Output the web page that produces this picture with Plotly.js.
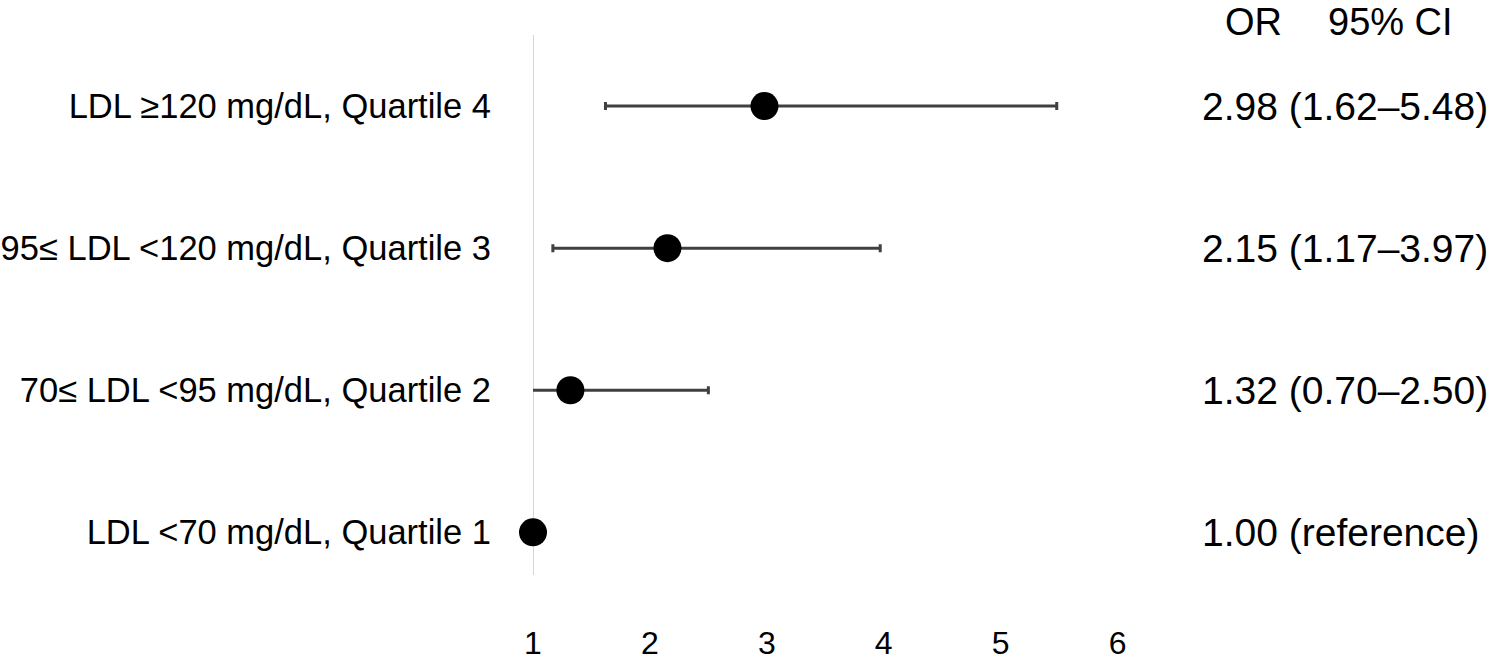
<!DOCTYPE html>
<html>
<head>
<meta charset="utf-8">
<script src="https://cdn.plot.ly/plotly-3.0.1.min.js"></script>
<style>html,body{margin:0;padding:0;background:#fff;}#chart{width:1501px;height:660px;}</style>
</head>
<body>
<div id="chart"></div>
<script>
// Data (bottom to top)
const categories = [
  "LDL <70 mg/dL, Quartile 1",
  "70≤ LDL <95 mg/dL, Quartile 2",
  "95≤ LDL <120 mg/dL, Quartile 3",
  "LDL ≥120 mg/dL, Quartile 4"
];
const oddsRatio = [1.00, 1.32, 2.15, 2.98];
const ciLow     = [null, 0.70, 1.17, 1.62];
const ciHigh    = [null, 2.50, 3.97, 5.48];
const ciText    = ["1.00 (reference)", "1.32 (0.70–2.50)", "2.15 (1.17–3.97)", "2.98 (1.62–5.48)"];
const headers   = ["OR", "95% CI"];
const xTicks    = [1, 2, 3, 4, 5, 6];

const FONT = "Liberation Sans, Arial, Helvetica, sans-serif";
const yIdx = categories.map((c, i) => i);

// Error bars (clipped to the plot area, so the CI below 1 is cut at the reference line)
const ciTrace = {
  type: "scatter",
  mode: "markers",
  x: oddsRatio,
  y: yIdx,
  marker: {size: 1, color: "rgba(0,0,0,0)"},
  error_x: {
    type: "data",
    symmetric: false,
    array: oddsRatio.map((v, i) => ciHigh[i] == null ? NaN : ciHigh[i] - v),
    arrayminus: oddsRatio.map((v, i) => ciLow[i] == null ? NaN : v - ciLow[i]),
    color: "#404040",
    thickness: 3,
    width: 4,
    visible: true
  },
  cliponaxis: true,
  hoverinfo: "skip",
  showlegend: false
};

// Point estimates
const orTrace = {
  type: "scatter",
  mode: "markers",
  x: oddsRatio,
  y: yIdx,
  marker: {size: 28, color: "#000000"},
  cliponaxis: false,
  hoverinfo: "x+y",
  showlegend: false
};

const W = 643;   // plot width in px
const L = 533;   // left margin
const px2paper = p => (p - L) / W;

const annotations = ciText.map((t, i) => ({
  xref: "paper", yref: "y",
  x: px2paper(1200), y: i,
  xanchor: "left", yanchor: "middle",
  text: t, showarrow: false,
  font: {family: FONT, size: 39, color: "#000"}
}));
const headerX = [1253, 1390];
headers.forEach((h, i) => annotations.push({
  xref: "paper", yref: "paper", x: px2paper(headerX[i]), y: 1 + 35 / 540,
  yanchor: "top", xanchor: "center",
  text: h, showarrow: false, borderpad: 0,
  font: {family: FONT, size: 38, color: "#000"}
}));

const layout = {
  width: 1501, height: 660,
  paper_bgcolor: "#ffffff", plot_bgcolor: "#ffffff",
  margin: {l: L, r: 1501 - L - W, t: 35, b: 85},
  font: {family: FONT, color: "#000"},
  xaxis: {
    range: [1, 6.5],
    tickvals: xTicks,
    ticktext: xTicks.map(String),
    showgrid: false, zeroline: false, showline: false,
    ticks: "",
    ticklabelstandoff: 46,
    tickfont: {family: FONT, size: 32, color: "#000"}
  },
  yaxis: {
    range: [-0.3, 3.5],
    tickvals: yIdx,
    ticktext: categories,
    showgrid: false, zeroline: false, showline: false,
    ticks: "",
    ticklabelstandoff: 41,
    tickfont: {family: FONT, size: 34.5, color: "#000"}
  },
  shapes: [{
    type: "line", xref: "x", yref: "paper",
    x0: 1, x1: 1, y0: 0, y1: 1,
    line: {color: "#c8c8c8", width: 1.5},
    layer: "below"
  }],
  annotations: annotations,
  showlegend: false
};

Plotly.newPlot("chart", [ciTrace, orTrace], layout, {displayModeBar: false, staticPlot: true});
</script>
</body>
</html>
